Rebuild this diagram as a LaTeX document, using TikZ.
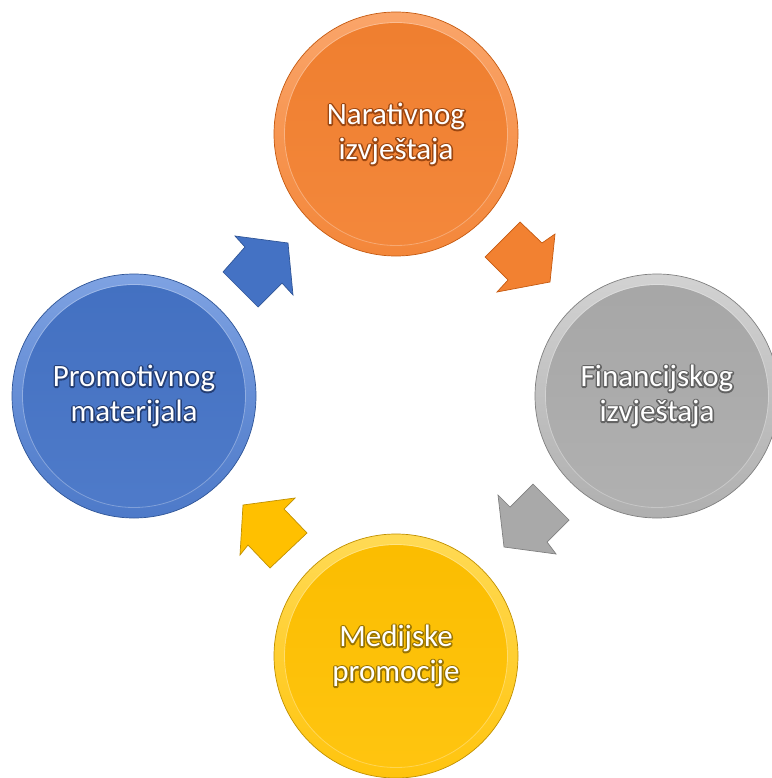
\documentclass[tikz,border=0pt]{standalone}
\usepackage{fontspec}
\setmainfont{Carlito}
\definecolor{oL}{HTML}{FAA56A}\definecolor{oM}{HTML}{F28131}\definecolor{oD}{HTML}{C55A11}
\definecolor{gL}{HTML}{D2D2D2}\definecolor{gM}{HTML}{A9A9A9}\definecolor{gD}{HTML}{808080}
\definecolor{yL}{HTML}{FFDA55}\definecolor{yM}{HTML}{FFC000}\definecolor{yD}{HTML}{C09000}
\definecolor{bL}{HTML}{7EA2E2}\definecolor{bM}{HTML}{4472C4}\definecolor{bD}{HTML}{2F5597}
\tikzset{
  ball/.style n args={3}{circle, minimum size=244pt, inner sep=0pt, draw=#3, line width=0.7pt,
    top color=#1, bottom color=#2!85!#1,
    path picture={
      \shade[top color=#2!93!#3, bottom color=#2!81!#1] (path picture bounding box.center) circle (111pt);
      \draw[white, opacity=0.28, line width=0.8pt] (path picture bounding box.center) circle (111.5pt);
    }},
  label/.style={font=\fontsize{31}{35}\selectfont, align=center, inner sep=0pt, text=white},
  glow/.style={label, draw opacity=0.75},
  blockarrow/.style 2 args={fill=#1, draw=#2, line width=0.7pt, line join=miter},
}
% dark outline behind the white text (stroke-only rendering mode)
\newcommand\stroked[2]{\special{pdf:literal direct 1 Tr 3 w 1 j #1 RG}#2\special{pdf:literal direct 0 Tr}}
\begin{document}
\begin{tikzpicture}[x=1pt, y=-1pt]
\useasboundingbox (0,0) rectangle (771,778);
% circles
\node[ball={oL}{oM}{oD}] (nar) at (396,134) {};
\node[ball={gL}{gM}{gD}] (fin) at (657,396) {};
\node[ball={yL}{yM}{yD}] (med) at (396,656) {};
\node[ball={bL}{bM}{bD}] (pro) at (134,396) {};
% labels
\node[glow] at (nar.center) {\stroked{0.5 0.2 0.02}{Narativnog}\\\stroked{0.5 0.2 0.02}{izvještaja}};
\node[label] (nart) at (nar.center) {Narativnog\\izvještaja};
\node[glow] at (fin.center) {\stroked{0.3 0.3 0.3}{Financijskog}\\\stroked{0.3 0.3 0.3}{izvještaja}};
\node[label] (fint) at (fin.center) {Financijskog\\izvještaja};
\node[glow] at (med.center) {\stroked{0.48 0.36 0.0}{Medijske}\\\stroked{0.48 0.36 0.0}{promocije}};
\node[label] (medt) at (med.center) {Medijske\\promocije};
\node[glow] at (pro.center) {\stroked{0.1 0.18 0.36}{Promotivnog}\\\stroked{0.1 0.18 0.36}{materijala}};
\node[label] (prot) at (pro.center) {Promotivnog\\materijala};
% block arrows
\draw[blockarrow={bM}{bD}] (235,236) -- (245,247) -- (223,272) -- (258,307) -- (282,283) -- (293,295) -- (288,243) -- cycle;
\draw[blockarrow={oM}{oD}] (520,222) -- (542,243) -- (555,234) -- (550,282) -- (497,292) -- (508,280) -- (485,257) -- cycle;
\draw[blockarrow={gM}{gD}] (533,484) -- (569,520) -- (547,542) -- (556,554) -- (504,547) -- (498,495) -- (510,507) -- cycle;
\draw[blockarrow={yM}{yD}] (295,498) -- (284,509) -- (307,533) -- (270,568) -- (248,545) -- (240,555) -- (243,505) -- cycle;
\end{tikzpicture}
\end{document}
